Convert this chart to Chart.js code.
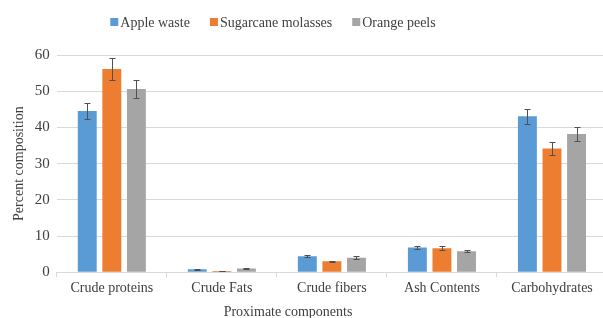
<!DOCTYPE html>
<html>
<head>
<meta charset="utf-8">
<script src="https://cdn.jsdelivr.net/npm/chart.js@4.4.0/dist/chart.umd.min.js"></script>
<style>
html, body { margin: 0; padding: 0; background: #fff; overflow: hidden; }
#wrap { position: relative; width: 608px; height: 318px; }
</style>
</head>
<body>
<div id="wrap"><canvas id="proxChart"></canvas></div>
<script>
// values (percent composition)
var components = ['Crude proteins', 'Crude Fats', 'Crude fibers', 'Ash Contents', 'Carbohydrates'];
var appleWaste = [44.5, 0.8, 4.4, 6.8, 43.1];
var appleErr = [2.3, 0.2, 0.3, 0.4, 2.1];
var molasses = [56.1, 0.3, 3.0, 6.6, 34.2];
var molassesErr = [3.0, 0.1, 0.2, 0.5, 1.9];
var orangePeels = [50.6, 1.0, 4.0, 5.8, 38.2];
var orangeErr = [2.6, 0.2, 0.4, 0.3, 2.0];
var yTicks = [0, 10, 20, 30, 40, 50, 60];

var serif = '"Liberation Serif", "Times New Roman", serif';
var textColor = '#404040';

// error bars drawn on top of each bar
var errorBars = {
    id: 'errorBars',
    afterDatasetsDraw: function (chart) {
        var ctx = chart.ctx;
        var yScale = chart.scales.y;
        ctx.save();
        ctx.strokeStyle = '#505050';
        ctx.lineWidth = 1;
        chart.data.datasets.forEach(function (ds, i) {
            var meta = chart.getDatasetMeta(i);
            meta.data.forEach(function (bar, j) {
                var v = ds.data[j];
                var e = ds.errors[j];
                var top = Math.round(yScale.getPixelForValue(v + e)) + 0.5;
                var bottom = Math.round(yScale.getPixelForValue(v - e)) + 0.5;
                var x = Math.round(bar.x) + 0.5;
                ctx.beginPath();
                ctx.moveTo(x, top);
                ctx.lineTo(x, bottom);
                ctx.moveTo(x - 3, top);
                ctx.lineTo(x + 3, top);
                ctx.moveTo(x - 3, bottom);
                ctx.lineTo(x + 3, bottom);
                ctx.stroke();
            });
        });
        ctx.restore();
    }
};

// legend and x axis title, placed like the original figure
var extraText = {
    id: 'extraText',
    afterDraw: function (chart) {
        var ctx = chart.ctx;
        ctx.save();
        ctx.font = '14px ' + serif;
        ctx.textBaseline = 'middle';
        ctx.fillStyle = textColor;

        var box = 8, gapBox = 2, gapItem = 20;
        var items = chart.data.datasets;
        var total = 0;
        items.forEach(function (ds, i) {
            total += box + gapBox + ctx.measureText(ds.label).width;
            if (i < items.length - 1) total += gapItem;
        });
        var x = 273 - total / 2;
        var y = 22;
        items.forEach(function (ds) {
            ctx.fillStyle = ds.backgroundColor;
            ctx.fillRect(x, y - box / 2, box, box);
            x += box + gapBox;
            ctx.fillStyle = textColor;
            ctx.textAlign = 'left';
            ctx.fillText(ds.label, x, y + 1);
            x += ctx.measureText(ds.label).width + gapItem;
        });

        ctx.textAlign = 'center';
        ctx.fillText('Proximate components', 288, 312);
        ctx.restore();
    }
};

var context = document.getElementById('proxChart').getContext('2d');
var proxChart = new Chart(context, {
    type: 'bar',
    data: {
        labels: components,
        datasets: [{
            label: 'Apple waste',
            data: appleWaste,
            errors: appleErr,
            backgroundColor: '#5B9BD5'
        }, {
            label: 'Sugarcane molasses',
            data: molasses,
            errors: molassesErr,
            backgroundColor: '#ED7D31'
        }, {
            label: 'Orange peels',
            data: orangePeels,
            errors: orangeErr,
            backgroundColor: '#A5A5A5'
        }]
    },
    options: {
        responsive: true,
        maintainAspectRatio: false,
        animation: false,
        categoryPercentage: 0.67,
        barPercentage: 0.77,
        layout: {
            padding: { top: 55, right: 1, bottom: 18, left: 11 }
        },
        plugins: {
            legend: { display: false },
            tooltip: { enabled: false }
        },
        scales: {
            x: {
                grid: {
                    offset: true,
                    drawOnChartArea: false,
                    drawTicks: true,
                    tickLength: 5,
                    color: '#d9d9d9'
                },
                border: { display: true, color: '#d9d9d9' },
                ticks: {
                    color: textColor,
                    padding: 3,
                    maxRotation: 0,
                    font: { family: serif, size: 14 }
                }
            },
            y: {
                min: 0,
                max: 60,
                afterBuildTicks: function (axis) {
                    axis.ticks = yTicks.map(function (v) { return { value: v }; });
                },
                grid: {
                    color: '#d9d9d9',
                    drawTicks: false
                },
                border: { display: false },
                ticks: {
                    color: textColor,
                    padding: 7,
                    font: { family: serif, size: 15 }
                },
                title: {
                    display: true,
                    text: 'Percent composition',
                    color: textColor,
                    padding: 0,
                    font: { family: serif, size: 14 }
                }
            }
        }
    },
    plugins: [errorBars, extraText]
});
</script>
</body>
</html>
